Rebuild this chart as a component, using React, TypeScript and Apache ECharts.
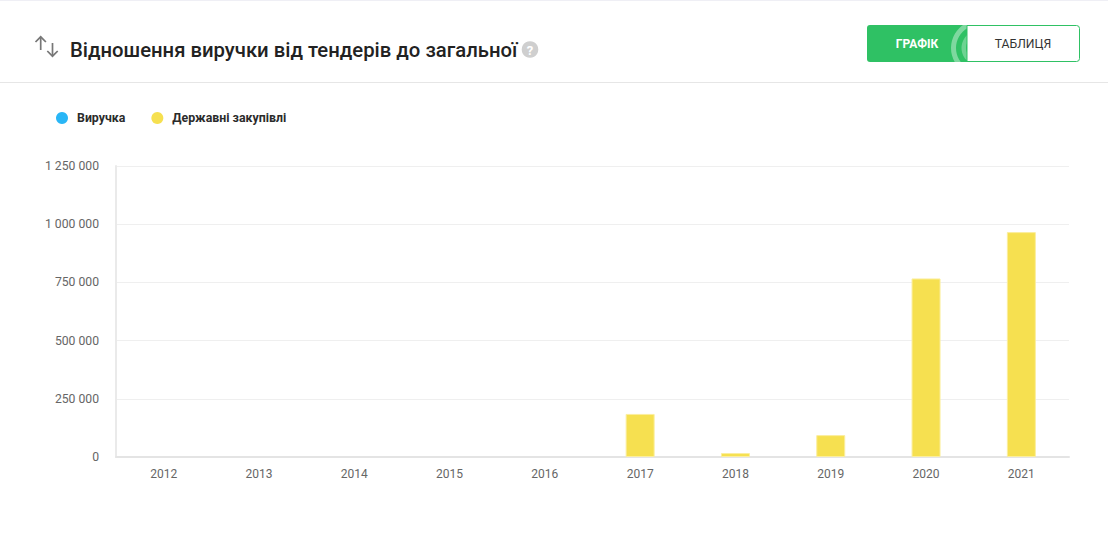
import React, { useEffect, useRef } from "react";
import * as echarts from "echarts";

const titleText = "Відношення виручки від тендерів до загальної";
const years = ["2012", "2013", "2014", "2015", "2016", "2017", "2018", "2019", "2020", "2021"];
const revenueName = "Виручка";
const tendersName = "Державні закупівлі";
const revenue: (number | null)[] = [null, null, null, null, null, null, null, null, null, null];
const tenders: (number | null)[] = [null, null, null, null, null, 185000, 17000, 94000, 767000, 966000];
const chartButton = "ГРАФІК";
const tableButton = "ТАБЛИЦЯ";

const font = "Roboto";
const green = "#2FC164";
const arrow = { stroke: "#777", lineWidth: 1.7, fill: "none" };

export default function App() {
  const ref = useRef<HTMLDivElement>(null);
  useEffect(() => {
    const chart = echarts.init(ref.current!, null, { renderer: "svg" });
    chart.setOption({
      animation: false,
      backgroundColor: "#fff",
      textStyle: { fontFamily: font },
      title: {
        text: titleText,
        left: 70,
        top: 38,
        padding: 0,
        textStyle: { fontFamily: font, fontSize: 20.3, fontWeight: 500, color: "#222222", lineHeight: 24 },
      },
      legend: {
        left: 56,
        top: 112,
        padding: 0,
        icon: "circle",
        itemWidth: 12,
        itemHeight: 12,
        itemGap: 26,
        data: [revenueName, tendersName],
        selectedMode: false,
        itemStyle: { borderWidth: 0 },
        textStyle: { fontFamily: font, fontSize: 12.35, fontWeight: 700, color: "#2b2b2b", padding: [0, 0, 0, 4] },
      },
      grid: { left: 116, right: 39, top: 166, bottom: 80 },
      xAxis: {
        type: "category",
        data: years,
        axisLine: { lineStyle: { color: "#E4E4E4", width: 2 } },
        axisTick: { show: false },
        axisLabel: { color: "#666666", fontFamily: font, fontSize: 12, margin: 11 },
      },
      yAxis: {
        type: "value",
        min: 0,
        max: 1250000,
        interval: 250000,
        axisLine: { show: true, lineStyle: { color: "#EAEAEA", width: 2 } },
        axisTick: { show: false },
        axisLabel: {
          color: "#666666",
          fontFamily: font,
          fontSize: 12.2,
          margin: 17,
          padding: [4, 0, 0, 0],
          formatter: (v: number) => String(v).replace(/\B(?=(\d{3})+$)/g, " "),
        },
        splitLine: { lineStyle: { color: "#EFEFEF", width: 1 } },
      },
      series: [
        {
          name: revenueName,
          type: "bar",
          data: revenue,
          barWidth: 29,
          barGap: "-100%",
          itemStyle: { color: "#29B6F6" },
        },
        {
          name: tendersName,
          type: "bar",
          data: tenders,
          barWidth: 29,
          barGap: "-100%",
          itemStyle: { color: "#F6E050", borderColor: "#FBEE9E", borderWidth: 1 },
        },
      ],
      graphic: [
        { type: "rect", shape: { x: 0, y: 0, width: 1108, height: 1 }, style: { fill: "#EFEFF5" }, silent: true },
        { type: "rect", shape: { x: 0, y: 82, width: 1108, height: 1 }, style: { fill: "#E6E6E6" }, silent: true },
        // sort arrows
        { type: "polyline", shape: { points: [[40.7, 37], [40.7, 50]] }, style: arrow },
        { type: "polyline", shape: { points: [[35.5, 42], [40.7, 36.8], [45.9, 42]] }, style: arrow },
        { type: "polyline", shape: { points: [[52.5, 43], [52.5, 56]] }, style: arrow },
        { type: "polyline", shape: { points: [[47.3, 51], [52.5, 56.2], [57.7, 51]] }, style: arrow },
        // help icon
        { type: "circle", shape: { cx: 530, cy: 49.5, r: 8.3 }, style: { fill: "#CFCFCF" } },
        {
          type: "text",
          x: 530,
          y: 50,
          style: { text: "?", fill: "#fff", font: `700 13px ${font}`, align: "center", verticalAlign: "middle" },
        },
        // buttons
        { type: "rect", z: 3, shape: { x: 867, y: 25, width: 110, height: 37, r: 3 }, style: { fill: green } },
        { type: "ring", z: 4, shape: { cx: 979, cy: 48, r: 28, r0: 23 }, style: { fill: "rgba(255,255,255,0.38)" } },
        { type: "ring", z: 4, shape: { cx: 979, cy: 48, r: 17.5, r0: 13 }, style: { fill: "rgba(255,255,255,0.3)" } },
        {
          type: "rect",
          z: 5,
          shape: { x: 967, y: 25.5, width: 112.5, height: 36, r: [0, 3, 3, 0] },
          style: { fill: "#fff", stroke: green, lineWidth: 1 },
        },
        {
          type: "text",
          z: 6,
          x: 917,
          y: 44,
          style: { text: chartButton, fill: "#fff", font: `700 12px ${font}`, align: "center", verticalAlign: "middle" },
        },
        {
          type: "text",
          z: 6,
          x: 1023,
          y: 44,
          style: { text: tableButton, fill: "#333", font: `400 12.2px ${font}`, align: "center", verticalAlign: "middle" },
        },
      ],
    });
    return () => chart.dispose();
  }, []);
  return <div ref={ref} style={{ position: "fixed", left: 0, top: 0, width: 1108, height: 537 }} />;
}
